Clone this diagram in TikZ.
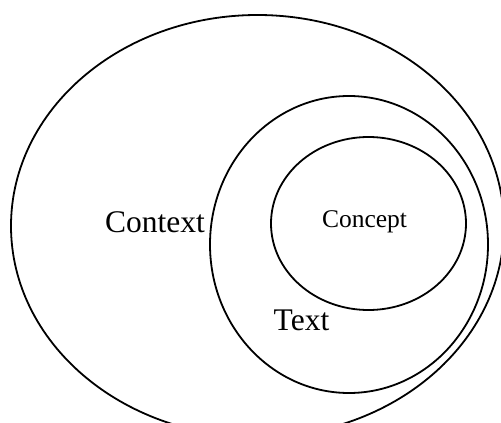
\documentclass[tikz,border=0pt]{standalone}
\usepackage{fontspec}
\setmainfont{Liberation Serif}
\begin{document}
\begin{tikzpicture}[x=1pt,y=-1pt,
  ring/.style={draw=black,line width=1.8pt},
  lbl/.style={anchor=base,inner sep=0pt,font=\fontsize{31.5}{36}\selectfont},
  smalllbl/.style={anchor=base,inner sep=0pt,font=\fontsize{25.5}{30}\selectfont}]
\useasboundingbox (0,0) rectangle (501,423);
\clip (0,0) rectangle (501,423);
\fill[white] (0,0) rectangle (501,423);
\coordinate (outer) at (257.5,226);
\coordinate (middle) at (349,244.5);
\coordinate (inner) at (368.5,223.5);
\draw[ring] (outer) ellipse [x radius=246.5, y radius=211];
\draw[ring] (middle) ellipse [x radius=139, y radius=148.5];
\draw[ring] (inner) ellipse [x radius=97.5, y radius=86.5];
\node[lbl] (context) at (155,232.7) {Context};
\node[lbl] (text) at (301.5,330) {Text};
\node[smalllbl] (concept) at (364.5,227) {Concept};
\end{tikzpicture}
\end{document}
